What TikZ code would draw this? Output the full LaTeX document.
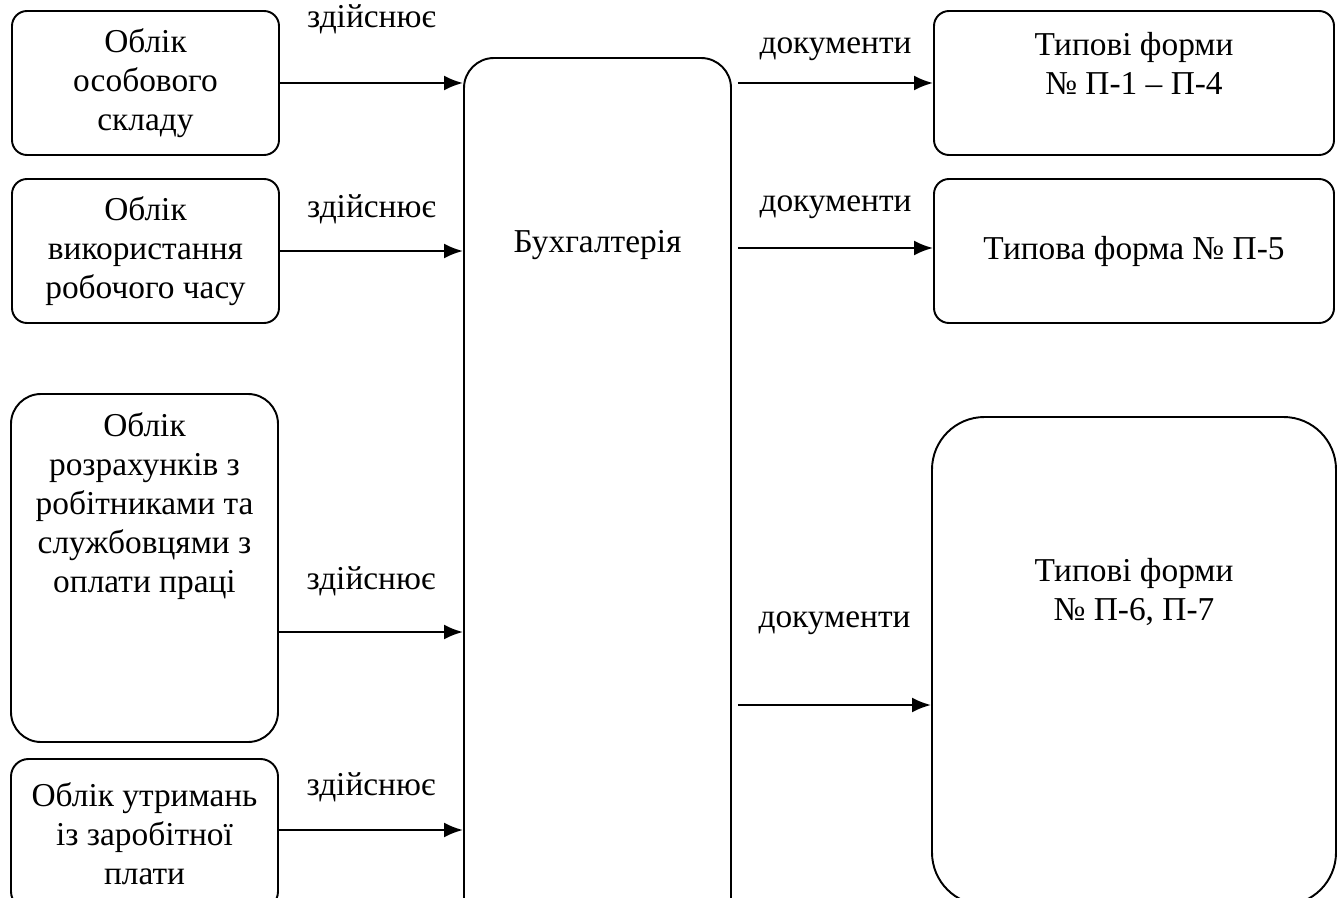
\documentclass[tikz,border=0pt]{standalone}
\usepackage{fontspec}
\setmainfont{Liberation Serif}
\usepackage{tikz}
\usetikzlibrary{shapes,arrows,arrows.meta}
\tikzstyle{block} = [rectangle, draw, line width=1.1pt, rounded corners=0.3cm,
    minimum width=5.34cm, minimum height=2.88cm, align=center, inner sep=0pt]
\tikzstyle{formblock} = [block, minimum width=8cm]
\tikzstyle{txt} = [align=center, inner sep=0pt]
\tikzstyle{arrow} = [draw, -{Latex[length=0.38cm, width=0.3cm]}, line width=1.4pt]
\tikzstyle{lbl} = [inner sep=0pt]

\begin{document}
\begin{tikzpicture}[node distance = 3.36cm,
    font=\fontsize{19}{22.2}\selectfont]
			\path [use as bounding box] (0,0) rectangle (26.88,-17.96);
			\clip (0,0) rectangle (26.88,-17.96);
			%
			\node [block] (osob) at (2.91,-1.66) {Облік\\особового\\складу};
			\node [block, below of=osob] (vykor) {Облік\\використання\\робочого часу};
			\node [block, rounded corners=0.6cm, minimum height=6.96cm] (rozrah) at (2.89,-11.36) {};
			\node [txt] (rozrahText) at (2.89,-10.12) {Облік\\розрахунків з\\робітниками та\\службовцями з\\оплати праці};
			\node [block, rounded corners=0.35cm, minimum height=3cm] (utrym) at (2.89,-16.68) {Облік утримань\\із заробітної\\плати};

			\node [block, rounded corners=0.6cm, minimum height=17.84cm] (buh) at (11.95,-10.08) {};
			\node [txt] (buhText) at (11.95,-4.9) {Бухгалтерія};

			\node [formblock] (tip1) at (22.68,-1.66) {};
			\node [txt] (tip1Text) at (22.68,-1.26) {Типові форми\\№ П-1 – П-4};
			\node [formblock, below of=tip1] (tip2) {Типова форма № П-5};
			\node [formblock, rounded corners=1.05cm, minimum width=8.08cm, minimum height=9.76cm] (tip3) at (22.68,-13.22) {};
			\node [txt] (tip3Text) at (22.68,-11.84) {Типові форми\\№ П-6, П-7};

			% Draw edges
			\path [arrow] (osob.east) -- (osob.east -| buh.west)
				node [lbl, midway, yshift=1.28cm] (l1) {здійснює};
			\path [arrow] (vykor.east) -- (vykor.east -| buh.west)
				node [lbl, midway, yshift=0.84cm] (l2) {здійснює};
			\path [arrow] ([yshift=-1.28cm]rozrah.east) -- ([yshift=-1.28cm]rozrah.east -| buh.west)
				node [lbl, midway, yshift=1.02cm] (l3) {здійснює};
			\path [arrow] ([yshift=0.08cm]utrym.east) -- ([yshift=0.08cm]utrym.east -| buh.west)
				node [lbl, midway, yshift=0.86cm] (l4) {здійснює};

			\path [arrow] ([xshift=0.12cm]buh.east |- tip1.west) -- (tip1.west)
				node [lbl, midway, yshift=0.68cm] (d1) {документи};
			\path [arrow] ([xshift=0.12cm, yshift=0.06cm]buh.east |- tip2.west) -- ([yshift=0.06cm]tip2.west)
				node [lbl, midway, yshift=0.82cm] (d2) {документи};
			\path [arrow] ([xshift=0.12cm, yshift=-0.88cm]buh.east |- tip3.west) -- ([yshift=-0.88cm]tip3.west)
				node [lbl, midway, yshift=1.64cm] (d3) {документи};
%
	\end{tikzpicture}
\end{document}
